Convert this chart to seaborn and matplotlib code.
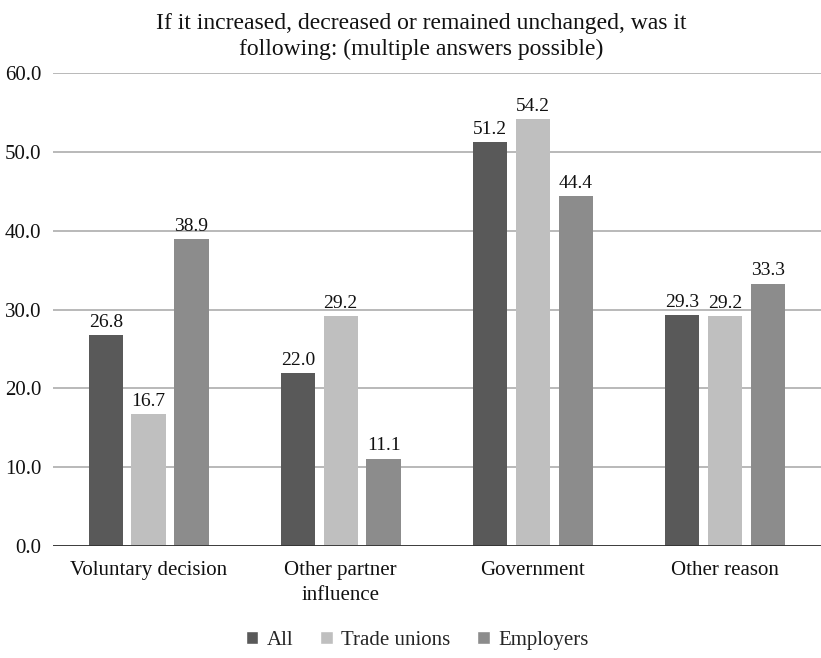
import matplotlib
matplotlib.use("Agg")
import matplotlib.pyplot as plt
import seaborn as sns
import pandas as pd
from matplotlib.patches import Patch

categories = ["Voluntary decision", "Other partner\ninfluence", "Government", "Other reason"]
series_names = ["All", "Trade unions", "Employers"]
all_vals = [26.8, 22.0, 51.2, 29.3]
tu_vals = [16.7, 29.2, 54.2, 29.2]
emp_vals = [38.9, 11.1, 44.4, 33.3]
colors = ["#595959", "#bfbfbf", "#8c8c8c"]
title = "If it increased, decreased or remained unchanged, was it\nfollowing: (multiple answers possible)"

rows = []
for name, vals in zip(series_names, [all_vals, tu_vals, emp_vals]):
    for c, v in zip(categories, vals):
        rows.append({"Category": c, "Series": name, "Value": v})
df = pd.DataFrame(rows)

sns.set_theme(style="white")
plt.rcParams["font.family"] = ["Liberation Serif", "DejaVu Serif"]
txt = "#111111"

fig = plt.figure(figsize=(8.21, 6.58), dpi=100)
ax = fig.add_axes([0.064, 0.170, 0.936, 0.719])
sns.barplot(data=df, x="Category", y="Value", hue="Series", order=categories,
            hue_order=series_names, palette=colors, width=0.67, gap=0.2,
            saturation=1, ax=ax, legend=False, zorder=3, linewidth=0)

for cont in ax.containers:
    ax.bar_label(cont, fmt="%.1f", padding=3, fontsize=14, color=txt)

ax.set_ylim(0, 60)
ax.set_yticks(range(0, 61, 10))
ax.set_yticklabels([f"{v:.1f}" for v in range(0, 61, 10)], fontsize=15, color=txt)
ax.tick_params(axis="x", labelsize=15, colors=txt, length=0, pad=11)
ax.tick_params(axis="y", length=0, pad=8)
for lab in ax.get_xticklabels():
    lab.set_linespacing(1.4)
ax.set_xlabel("")
ax.set_ylabel("")
ax.grid(axis="y", color="#a6a6a6", linewidth=1.1, zorder=0)
ax.axhline(0, color="#333333", linewidth=1.3, zorder=4)
for s in ax.spines.values():
    s.set_visible(False)
ax.set_xlim(-0.5, 3.5)

fig.text(0.513, 0.909, title, ha="center", va="bottom", fontsize=17, color=txt,
         linespacing=1.32)

handles = [Patch(facecolor=c, label=n) for c, n in zip(colors, series_names)]
fig.legend(handles=handles, loc="center", bbox_to_anchor=(0.508, 0.027), ncol=3,
           frameon=False, fontsize=15, handlelength=0.6, handleheight=0.6,
           handletextpad=0.4, columnspacing=1.3)

fig.savefig("out.png", dpi=100)
